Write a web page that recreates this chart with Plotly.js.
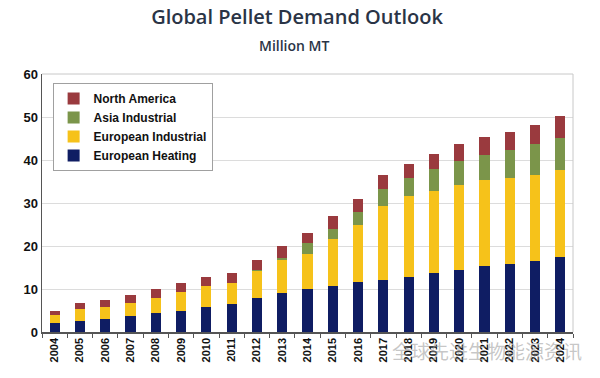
<!DOCTYPE html>
<html>
<head>
<meta charset="utf-8">
<script src="https://cdn.plot.ly/plotly-3.0.1.min.js"></script>
<style>html,body{margin:0;padding:0;background:#fff;}#chart{width:600px;height:378px;}</style>
</head>
<body>
<div id="chart"></div>
<script>
const years = ["2004","2005","2006","2007","2008","2009","2010","2011","2012","2013","2014","2015","2016","2017","2018","2019","2020","2021","2022","2023","2024"];
const europeanHeating    = [2.1, 2.5, 3.0, 3.7, 4.4, 5.0, 5.8, 6.6, 7.8, 9.1, 9.9, 10.8, 11.6, 12.2, 12.9, 13.7, 14.5, 15.3, 15.8, 16.5, 17.4];
const europeanIndustrial = [1.9, 2.9, 2.8, 3.0, 3.5, 4.2, 4.8, 4.8, 6.5, 7.7, 8.3, 10.9, 13.3, 17.0, 18.7, 19.2, 19.8, 20.0, 20.1, 20.1, 20.3];
const asiaIndustrial     = [0.0, 0.0, 0.0, 0.0, 0.0, 0.0, 0.0, 0.0, 0.2, 0.4, 2.4, 2.3, 2.9, 4.0, 4.1, 4.9, 5.4, 5.8, 6.4, 7.1, 7.5];
const northAmerica       = [0.9, 1.4, 1.7, 1.8, 2.1, 2.1, 2.2, 2.3, 2.3, 2.8, 2.4, 2.9, 3.1, 3.2, 3.4, 3.5, 4.0, 4.2, 4.2, 4.5, 5.0];
const seriesNames = ["European Heating", "European Industrial", "Asia Industrial", "North America"];
const seriesColors = ["#0f1d63", "#f6c21a", "#7b954a", "#9a3a3e"];
const seriesValues = [europeanHeating, europeanIndustrial, asiaIndustrial, northAmerica];

const traces = seriesValues.map((v, i) => ({
  type: "bar",
  name: seriesNames[i],
  x: years,
  y: v,
  marker: {color: seriesColors[i], line: {width: 0}},
  hoverinfo: "x+y+name"
}));

const layout = {
  width: 600, height: 378,
  margin: {l: 42, r: 27, t: 74, b: 46},
  paper_bgcolor: "#ffffff",
  plot_bgcolor: "#ffffff",
  barmode: "stack",
  bargap: 0.6,
  showlegend: true,
  font: {family: "Liberation Sans, Arial, sans-serif", color: "#111"},
  title: {
    text: "Global Pellet Demand Outlook",
    font: {family: "Open Sans, Noto Sans, sans-serif", size: 20, color: "#2a3446", weight: 600},
    x: 0.495, xanchor: "center", xref: "container", y: 0.955, yanchor: "middle"
  },
  xaxis: {
    type: "category",
    tickangle: -90,
    tickfont: {family: "Liberation Sans, Arial, sans-serif", size: 11, color: "#111", weight: "bold"},
    showline: true, linecolor: "#555", linewidth: 1.5,
    ticks: "outside", ticklen: 4, tickcolor: "#555", tickson: "boundaries",
    showgrid: false, mirror: false, fixedrange: true
  },
  yaxis: {
    range: [0, 60],
    dtick: 10,
    tickfont: {family: "Liberation Sans, Arial, sans-serif", size: 13, color: "#111", weight: "bold"},
    showline: true, linecolor: "#555", linewidth: 1.5,
    ticks: "", showgrid: true, gridcolor: "#dcdcdc", gridwidth: 1,
    zeroline: false, fixedrange: true
  },
  legend: {
    x: 0.02, y: 0.965, xanchor: "left", yanchor: "top",
    traceorder: "reversed",
    bgcolor: "#ffffff", bordercolor: "#a0a0a0", borderwidth: 1,
    font: {family: "Liberation Sans, Arial, sans-serif", size: 12, color: "#111", weight: "bold"},
    itemwidth: 30, tracegroupgap: 0
  },
  shapes: [
    {type: "line", xref: "paper", yref: "paper", x0: 0, x1: 1, y0: 1, y1: 1, line: {color: "#c8c8c8", width: 1}},
    {type: "line", xref: "paper", yref: "paper", x0: 1, x1: 1, y0: 0, y1: 1, line: {color: "#c8c8c8", width: 1}}
  ],
  annotations: [
    {text: "Million MT", xref: "paper", yref: "paper", x: 0.4746, y: 1.11, xanchor: "center", yanchor: "middle",
     showarrow: false, font: {family: "Open Sans, Noto Sans, sans-serif", size: 14, color: "#2a3446", weight: 600}},
    {text: "全球先进生物能源资讯", xref: "paper", yref: "paper", x: 1.02, y: -0.07, xanchor: "right", yanchor: "middle",
     showarrow: false, font: {family: "Noto Sans CJK SC, sans-serif", size: 19, color: "rgba(150,150,150,0.55)"}}
  ]
};

Plotly.newPlot("chart", traces, layout, {displayModeBar: false, staticPlot: true});
</script>
</body>
</html>
